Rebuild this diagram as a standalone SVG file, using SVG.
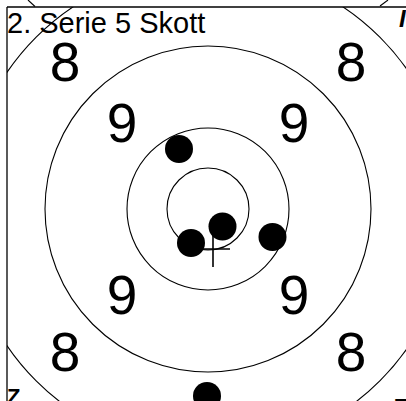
<svg xmlns="http://www.w3.org/2000/svg" width="406" height="401" viewBox="0 0 406 401">
<defs>
<style>
.ring{fill:none;stroke:#000;stroke-width:1.1}
.frame{fill:none;stroke:#000;stroke-width:1.3}
.num{font-family:"Liberation Sans",Arial,sans-serif;font-size:55px;fill:#000;text-anchor:middle}
.title{font-family:"Liberation Sans",Arial,sans-serif;font-size:29px;fill:#000}
.frag{font-family:"Liberation Sans",Arial,sans-serif;font-weight:bold;fill:#000}
.hole{fill:#000}
.cross{stroke:#000;stroke-width:1.6}
</style>
<clipPath id="inner"><rect x="7" y="7" width="399" height="394"/></clipPath>
</defs>
<rect width="406" height="401" fill="#fff"/>
<g id="target" clip-path="url(#inner)">
<circle class="ring" cx="208" cy="209" r="41"/>
<circle class="ring" cx="208" cy="209" r="81"/>
<circle class="ring" cx="208" cy="209" r="163"/>
<circle class="ring" cx="208" cy="209" r="243"/>
</g>
<g id="frame">
<line class="frame" x1="7" y1="7" x2="406" y2="7"/>
<line class="frame" x1="7" y1="7" x2="7" y2="401"/>
<line class="ring" x1="28" y1="0" x2="35" y2="6.5"/>
<line class="ring" x1="388" y1="0" x2="380" y2="6"/>
</g>
<g id="title"><text class="title" x="7" y="33">2. Serie 5 Skott</text></g>
<g id="labels">
<text class="num" x="65" y="81">8</text>
<text class="num" x="351" y="81">8</text>
<text class="num" x="122" y="142">9</text>
<text class="num" x="294" y="142">9</text>
<text class="num" x="122" y="314">9</text>
<text class="num" x="294" y="314">9</text>
<text class="num" x="65" y="371">8</text>
<text class="num" x="351" y="371">8</text>
</g>
<g id="shots">
<circle class="hole" cx="179" cy="149" r="14"/>
<circle class="hole" cx="222.5" cy="226.5" r="14"/>
<circle class="hole" cx="191" cy="243" r="14"/>
<circle class="hole" cx="272.5" cy="237" r="14"/>
<circle class="hole" cx="207" cy="396" r="14"/>
</g>
<g id="mpi">
<line class="cross" x1="196" y1="249" x2="230" y2="249"/>
<line class="cross" x1="213" y1="232" x2="213" y2="267"/>
</g>
<g id="fragments">
<text class="frag" x="399" y="27" font-size="24" font-style="italic">I</text>
<text class="frag" x="7" y="404" font-size="22">Z</text>
<text class="frag" x="395" y="414" font-size="22">T</text>
</g>
</svg>
